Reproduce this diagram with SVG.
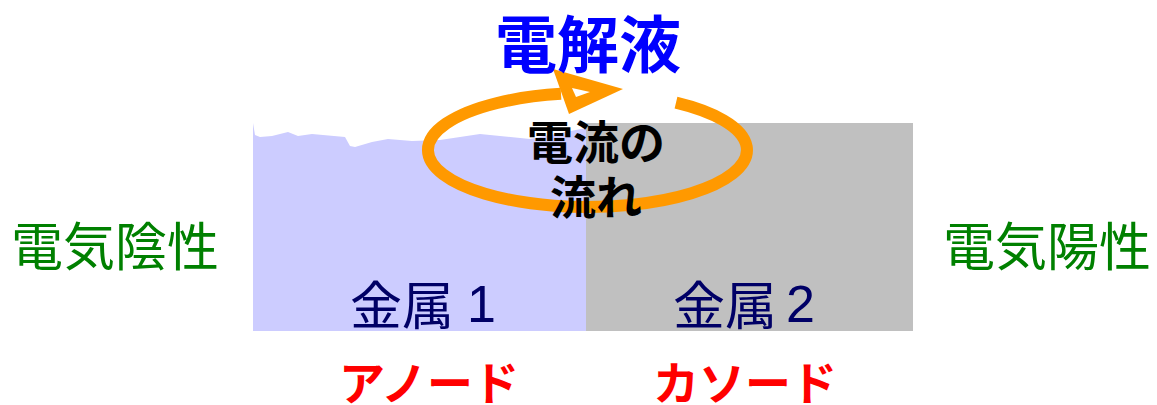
<svg xmlns="http://www.w3.org/2000/svg" width="1157" height="405" viewBox="0 0 1157 405">
<style>
.jp{font-family:"Noto Sans CJK JP","Liberation Sans",sans-serif;}
.side{font-size:52px;fill:#008000;}
.metal{font-size:52px;fill:#000066;}
.digit{font-family:"Liberation Sans",sans-serif;font-size:52px;}
.role{font-size:46px;font-weight:bold;fill:#ff0000;text-anchor:middle;}
.flow{font-size:46px;font-weight:bold;fill:#000000;text-anchor:middle;}
</style>
<rect width="1157" height="405" fill="#ffffff"/>
<g id="metal1">
<path d="M253 123 L255 135 L260 137 L272 136 L288 132 L298 136 L312 134 L345 137 L350 146 L355 147 L372 142 L388 139 L412 141 L440 140 L480 134 L530 139 L586 128 L586 331 L253 331 Z" fill="#ccccff"/>
<text class="jp metal" x="350" y="325">金属 <tspan class="digit" x="467" y="322">1</tspan></text>
</g>
<g id="metal2">
<rect x="586" y="123" width="327" height="208" fill="#c0c0c0"/>
<text class="jp metal" x="673" y="325">金属 <tspan class="digit" x="786" y="322">2</tspan></text>
</g>
<g id="connectors">
<path d="M676 102.6 A159.5 57 0 1 1 561 93.8" fill="none" stroke="#ff9900" stroke-width="12"/>
<polygon points="553,69 569,114 623,89" fill="#ff9900"/>
<polygon points="572,88 576,97 590,92" fill="#ffffff"/>
</g>
<g id="electrolyte">
<text class="jp" x="588" y="68" font-size="62" font-weight="bold" fill="#0000ff" text-anchor="middle">電解液</text>
</g>
<g id="current">
<text class="jp flow" x="596" y="159">電流の</text>
<text class="jp flow" x="596" y="214">流れ</text>
</g>
<g id="electronegative">
<text class="jp side" x="11" y="266">電気陰性</text>
</g>
<g id="electropositive">
<text class="jp side" x="943" y="266">電気陽性</text>
</g>
<g id="anode">
<text class="jp role" x="429" y="400">アノード</text>
</g>
<g id="cathode">
<text class="jp role" x="745" y="400">カソード</text>
</g>
</svg>
